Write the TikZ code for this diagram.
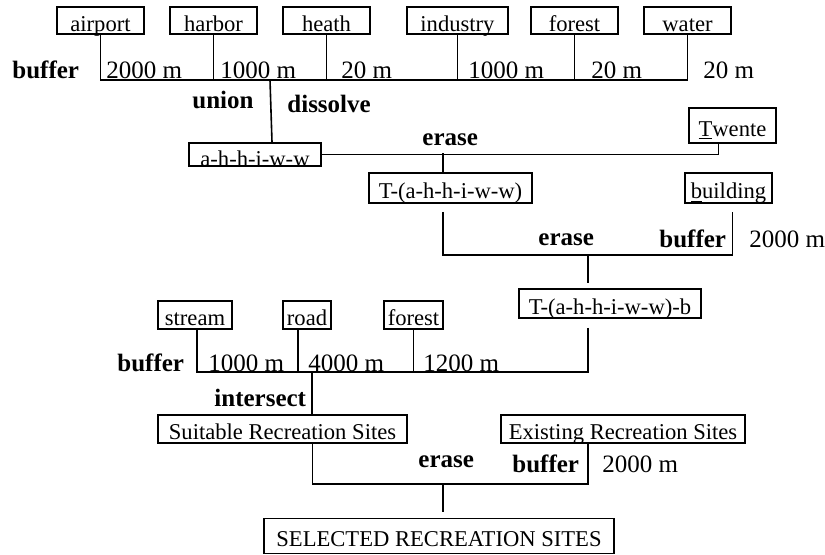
\documentclass[tikz,border=0pt]{standalone}
\usepackage{fontspec}
\setmainfont{Liberation Serif}

\tikzstyle{every node}=[inner sep=0pt]
\tikzstyle{layer}=[draw, line width=0.9pt, anchor=center, text height=11pt, text depth=0.5pt, font={\fontsize{11.3}{13}\selectfont}]
\tikzstyle{op}=[anchor=base west, font={\fontsize{12.5}{14}\selectfont\bfseries}]
\tikzstyle{dist}=[anchor=base west, font={\fontsize{12.5}{14}\selectfont}]
\tikzstyle{link}=[line width=0.8pt]

\begin{document}
\begin{tikzpicture}[x=0.5pt, y=-0.5pt]
    \useasboundingbox (0,0) rectangle (825,554);

    % input layers
    \node [layer, minimum width=43.5pt, minimum height=13.5pt] (airport) at (100.5,20.5) {airport};
    \node [layer, minimum width=43.5pt, minimum height=13.5pt] (harbor) at (213.5,20.5) {harbor};
    \node [layer, minimum width=43.5pt, minimum height=13.5pt] (heath) at (326.5,20.5) {heath};
    \node [layer, minimum width=50.5pt, minimum height=13.5pt] (industry) at (457.5,20.5) {industry};
    \node [layer, minimum width=43.5pt, minimum height=13.5pt] (forestA) at (574.5,20.5) {forest};
    \node [layer, minimum width=43.5pt, minimum height=13.5pt] (water) at (687.5,20.5) {water};

    \node [op] (buf1) at (12,78) {buffer};
    \node [dist] (d1) at (106,78) {2000 m};
    \node [dist] (d2) at (220,78) {1000 m};
    \node [dist] (d3) at (341,78) {20 m};
    \node [dist] (d4) at (468,78) {1000 m};
    \node [dist] (d5) at (591,78) {20 m};
    \node [dist] (d6) at (703,78) {20 m};

    \coordinate (bus1) at (100,80);
    \draw [link] (airport.south) |- (water.south |- bus1) -- (water.south);
    \foreach \n in {harbor,heath,industry,forestA}
        \draw [link] (\n.south) -- (\n.south |- bus1);

    % union + dissolve
    \node [op] (union) at (192,108) {union};
    \node [op] (dissolve) at (287,112) {dissolve};
    \node [layer, minimum width=66pt, minimum height=11.5pt, text height=11.5pt, text depth=-0.5pt] (ahhiww) at (255,154.5) {a-h-h-i-w-w};
    \coordinate (unionpt) at (270,80);
    \draw [link] (unionpt) -- ([xshift=8.5pt]ahhiww.north);

    % erase from Twente
    \node [layer, minimum width=43.5pt, minimum height=17.5pt] (twente) at (732.5,125.5) {\underline{T}wente};
    \node [op] (erase1) at (422,145) {erase};
    \coordinate (er1) at (443,153);
    \draw [link] (ahhiww.east) -| ([xshift=-7pt]twente.south);
    \node [layer, minimum width=81.5pt, minimum height=15pt] (tminus) at (450.5,188) {T-(a-h-h-i-w-w)};
    \draw [link] (er1) -- (er1 |- tminus.north);

    % erase buffered buildings
    \node [layer, minimum width=43.5pt, minimum height=15pt] (building) at (728.5,188) {\underline{b}uilding};
    \node [op] (erase2) at (538,245) {erase};
    \node [op] (buf2) at (659,247) {buffer};
    \node [dist] (d7) at (749,247) {2000 m};
    \coordinate (er2) at (588,255);
    \draw [link, shorten <=4pt, shorten >=4pt] (er1 |- tminus.south) |- (er2) -| ([xshift=2pt]building.south);
    \node [layer, minimum width=91pt, minimum height=14.5pt] (tminusb) at (610,303.5) {T-(a-h-h-i-w-w)-b};
    \draw [link, shorten >=2.5pt] (er2) -- (er2 |- tminusb.north);

    % second group of layers
    \node [layer, minimum width=37pt, minimum height=14pt] (stream) at (195,315) {stream};
    \node [layer, minimum width=24pt, minimum height=14pt] (road) at (307,315) {road};
    \node [layer, minimum width=29.5pt, minimum height=14pt] (forestB) at (413.5,315) {forest};
    \node [op] (buf3) at (117,371) {buffer};
    \node [dist] (d8) at (208,371) {1000 m};
    \node [dist] (d9) at (308,371) {4000 m};
    \node [dist] (d10) at (423,371) {1200 m};

    \coordinate (bus3) at (197,372);
    \draw [link, shorten <=4.5pt] (er2 |- tminusb.south) |- (bus3) -- (bus3 |- stream.south);
    \draw [link] ([xshift=-4.5pt]road.south) -- ([xshift=-4.5pt]road.south |- bus3);
    \draw [link] (forestB.south) -- (forestB.south |- bus3);

    % intersect
    \node [op] (intersect) at (214,406) {intersect};
    \node [layer, minimum width=124.5pt, minimum height=14pt] (suitable) at (282.5,429) {Suitable Recreation Sites};
    \coordinate (isect) at (312,372);
    \draw [link] (isect) -- (isect |- suitable.north);

    % final erase
    \node [layer, minimum width=122pt, minimum height=14pt] (existing) at (623,429) {Existing Recreation Sites};
    \node [op] (erase3) at (418,467) {erase};
    \node [op] (buf4) at (512,472) {buffer};
    \node [dist] (d11) at (602,472) {2000 m};
    \coordinate (er3) at (443,484);
    \draw [link] ([xshift=15pt]suitable.south) |- (er3) -| ([xshift=-17.5pt]existing.south);
    \node [layer, minimum width=175pt, minimum height=17.5pt] (selected) at (439,536) {SELECTED RECREATION SITES};
    \draw [link, shorten >=3pt] (er3) -- (er3 |- selected.north);
\end{tikzpicture}
\end{document}
